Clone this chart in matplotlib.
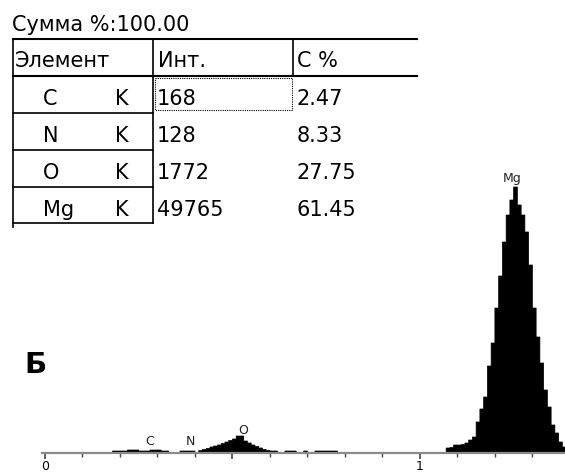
"""
EDS spectrum (panel B) with the quantification table above it.
"""

import matplotlib
matplotlib.use("Agg")
import matplotlib.pyplot as plt
import numpy as np

# --- quantification table ---
total_label = "Сумма %:100.00"
headers = ["Элемент", "Инт.", "С %"]
elements = ["C", "N", "O", "Mg"]
line_series = ["K", "K", "K", "K"]
intensities = ["168", "128", "1772", "49765"]
concentrations = ["2.47", "8.33", "27.75", "61.45"]

# --- spectrum, 10 eV channels ---
channel_width = 0.01
low_first_channel = 17
low_counts = [
    0, 2, 2, 2, 2, 3, 3, 3, 2, 2,                       # 17-26
    2, 3, 3, 3, 2, 2, 0, 0, 0, 2,                       # 27-36
    2, 2, 2, 0, 2.5, 3.5, 4.5, 6, 7, 8,                 # 37-46
    9.5, 11, 12.5, 14, 17, 17, 12, 10, 8, 6.5,          # 47-56
    5, 3.5, 2.5, 2, 2, 0, 0, 2, 2, 2,                   # 57-66
    0, 0, 2, 0, 0, 2, 2, 2, 2, 2,                       # 67-76
    2, 0,                                               # 77-78
]
mg_first_channel = 107
mg_counts = [
    5, 5.5, 8, 8, 8.5, 10, 13, 16, 31, 44,              # 107-116
    56, 87, 110, 145, 177, 211, 238, 253, 266, 248,     # 117-126
    238, 221, 188, 145, 116, 90, 63, 46, 28, 20,        # 127-136
    11, 6,                                              # 137-138
]

peak_names = ["C", "N", "O", "Mg"]
peak_energy = [0.28, 0.389, 0.528, 1.245]
peak_label_y = [5, 5, 16, 268]

xmin, xmax = -0.008, 1.387
ymax = 273

fig = plt.figure(figsize=(5.65, 4.73), dpi=100)
plt.rcParams["font.family"] = ["DejaVu Sans"]

# spectrum axes
ax = fig.add_axes([42 / 565, 20 / 473, 523 / 565, 273 / 473])
ax.patch.set_alpha(0)

for first, counts in [(low_first_channel, low_counts), (mg_first_channel, mg_counts)]:
    edges = (first + np.arange(len(counts) + 1)) * channel_width
    ax.stairs(counts, edges, fill=True, facecolor="black", edgecolor="black",
              linewidth=0.5, snap=False)

for name, e, y in zip(peak_names, peak_energy, peak_label_y):
    ax.text(e, y, name, ha="center", va="bottom", fontsize=9, color="#222222")

ax.set_xlim(xmin, xmax)
ax.set_ylim(0, ymax)
for side in ["left", "right", "top"]:
    ax.spines[side].set_visible(False)
ax.spines["bottom"].set_color("#8a8a8a")
ax.spines["bottom"].set_linewidth(1.6)
ax.set_yticks([])
ax.set_xticks([0, 0.5, 1.0])
ax.set_xticklabels(["0", "", "1"])
ax.set_xticks(np.arange(0, 1.4, 0.1), minor=True)
ax.tick_params(axis="x", which="major", direction="out", length=4.5, width=1.2,
               color="#444444", labelsize=9, pad=0.5)
ax.tick_params(axis="x", which="minor", direction="out", length=3, width=1.0,
               color="#444444")

# overlay in pixel coordinates for the table and panel letter
tab = fig.add_axes([0, 0, 1, 1])
tab.set_xlim(0, 565)
tab.set_ylim(473, 0)
tab.axis("off")
tab.patch.set_alpha(0)

fs = 15
tab.text(12, 31, total_label, fontsize=fs, va="baseline", ha="left")

# table lines
tab.plot([13, 417], [39, 39], color="black", lw=1.5)
tab.plot([13, 417], [76, 76], color="black", lw=1.5)
tab.plot([13, 13], [39, 227], color="black", lw=1.2)
tab.plot([153, 153], [39, 223], color="black", lw=1.2)
tab.plot([293, 293], [39, 76], color="black", lw=1.2)
for yline in [113, 150, 187, 223]:
    tab.plot([13, 153], [yline, yline], color="black", lw=1.2)

# focus rectangle around the first intensity cell
tab.plot([155, 292, 292, 155, 155], [78, 78, 110, 110, 78], color="black",
         lw=0.8, linestyle=(0, (1, 1)))

header_x = [15, 158, 297]
for hx, h in zip(header_x, headers):
    tab.text(hx, 67, h, fontsize=fs, va="baseline", ha="left")

row_base = [105, 142, 179, 216]
for yb, el, ln, inten, conc in zip(row_base, elements, line_series,
                                   intensities, concentrations):
    tab.text(43, yb, el, fontsize=fs, va="baseline", ha="left")
    tab.text(115, yb, ln, fontsize=fs, va="baseline", ha="left")
    tab.text(157, yb, inten, fontsize=fs, va="baseline", ha="left")
    tab.text(297, yb, conc, fontsize=fs, va="baseline", ha="left")

tab.text(35, 365, "Б", fontsize=21, fontweight="bold", ha="center", va="center")

fig.savefig("out.png", dpi=100)
